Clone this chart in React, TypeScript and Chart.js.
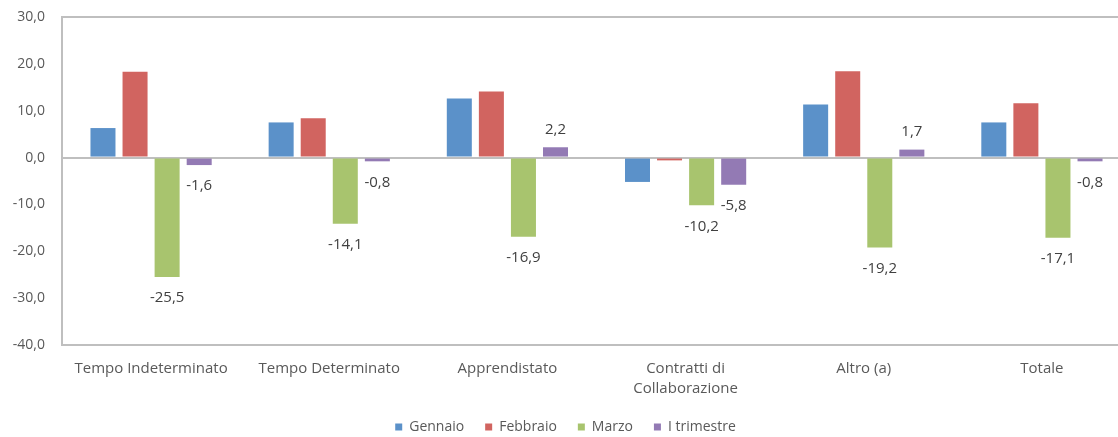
import { useEffect, useRef } from 'react';
import { Chart, registerables } from 'chart.js';

Chart.register(...registerables);

const categories = [
  'Tempo Indeterminato',
  'Tempo Determinato',
  'Apprendistato',
  ['Contratti di', 'Collaborazione'],
  'Altro (a)',
  'Totale',
];
const gennaio = [6.3, 7.5, 12.6, -5.2, 11.3, 7.5];
const febbraio = [18.3, 8.4, 14.1, -0.6, 18.4, 11.6];
const marzo = [-25.5, -14.1, -16.9, -10.2, -19.2, -17.1];
const trimestre = [-1.6, -0.8, 2.2, -5.8, 1.7, -0.8];
const yTicks = [30, 20, 10, 0, -10, -20, -30, -40];

const AXIS = '#bfbfbf';
const TEXT = '#595959';
const FONT = "'Open Sans', sans-serif";

const fmt = (v: number) => v.toFixed(1).replace('.', ',');

// labels on Marzo and I trimestre bars only, like the original
const valueLabels = {
  id: 'valueLabels',
  afterDatasetsDraw(chart: Chart) {
    const { ctx } = chart;
    ctx.save();
    ctx.font = `15px ${FONT}`;
    ctx.fillStyle = '#404040';
    ctx.textAlign = 'center';
    ctx.textBaseline = 'middle';
    [2, 3].forEach((di) => {
      const meta = chart.getDatasetMeta(di);
      const data = chart.data.datasets[di].data as number[];
      meta.data.forEach((el, i) => {
        const v = data[i];
        const { x, y } = el.getProps(['x', 'y'], true) as { x: number; y: number };
        ctx.fillText(fmt(v), x, v < 0 ? y + 21 : y - 18);
      });
    });
    ctx.restore();
  },
};

export default function App() {
  const canvasRef = useRef<HTMLCanvasElement>(null);

  useEffect(() => {
    document.body.style.margin = '0';
    document.body.style.overflow = 'hidden';
    if (!canvasRef.current) return;
    const bar = { borderWidth: 0, categoryPercentage: 0.72, barPercentage: 0.78 };
    const chart = new Chart(canvasRef.current, {
      type: 'bar',
      data: {
        labels: categories,
        datasets: [
          { label: 'Gennaio', data: gennaio, backgroundColor: '#5b91c9', ...bar },
          { label: 'Febbraio', data: febbraio, backgroundColor: '#d16460', ...bar },
          { label: 'Marzo', data: marzo, backgroundColor: '#a8c46e', ...bar },
          { label: 'I trimestre', data: trimestre, backgroundColor: '#937ab4', ...bar },
        ],
      },
      options: {
        animation: false,
        responsive: true,
        maintainAspectRatio: false,
        layout: { padding: { top: 17, right: 9, left: 0, bottom: 0 } },
        plugins: {
          tooltip: { enabled: false },
          legend: {
            position: 'bottom',
            labels: {
              boxWidth: 7,
              boxHeight: 7,
              padding: 21,
              color: TEXT,
              font: { family: FONT, size: 14 },
            },
          },
        },
        scales: {
          x: {
            grid: { display: false, drawTicks: false },
            border: { display: false },
            ticks: {
              color: TEXT,
              padding: 14,
              maxRotation: 0,
              autoSkip: false,
              font: { family: FONT, size: 15, lineHeight: 1.3 },
            },
            afterFit: (s) => { s.height = 54; },
          },
          y: {
            min: -40,
            max: 30,
            afterBuildTicks: (s) => { s.ticks = yTicks.map((value) => ({ value })); },
            grid: {
              drawTicks: true,
              tickLength: 17,
              tickColor: 'rgba(0,0,0,0)',
              lineWidth: 2,
              color: (c) => ([30, 0, -40].includes(c.tick?.value) ? AXIS : 'rgba(0,0,0,0)'),
            },
            border: { display: true, color: AXIS, width: 2 },
            ticks: {
              color: TEXT,
              padding: 0,
              font: { family: FONT, size: 14 },
              callback: (v) => fmt(Number(v)),
            },
            afterFit: (s) => { s.width = 62; },
          },
        },
      },
      plugins: [valueLabels],
    });
    return () => { chart.destroy(); };
  }, []);

  return (
    <div style={{ position: 'relative', width: 1140, height: 444, background: '#fff' }}>
      <canvas ref={canvasRef} />
    </div>
  );
}
